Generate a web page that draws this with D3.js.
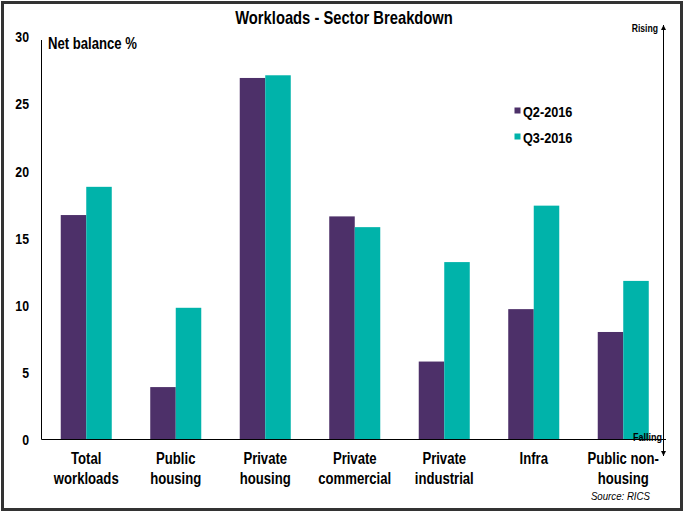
<!DOCTYPE html>
<html>
<head>
<meta charset="utf-8">
<script src="https://cdn.jsdelivr.net/npm/d3@7"></script>
<style>
  html, body { margin: 0; padding: 0; background: #fff; }
  svg { display: block; }
  text { font-family: "Liberation Sans", Arial, sans-serif; font-weight: bold; fill: #000; }
</style>
</head>
<body>
<svg id="chart" width="685" height="513"></svg>
<script>
const categories = [
  ["Total", "workloads"],
  ["Public", "housing"],
  ["Private", "housing"],
  ["Private", "commercial"],
  ["Private", "industrial"],
  ["Infra"],
  ["Public non-", "housing"]
];
const seriesNames = ["Q2-2016", "Q3-2016"];
const q2_2016 = [16.7, 3.9, 26.9, 16.6, 5.8, 9.7, 8.0];
const q3_2016 = [18.8, 9.8, 27.1, 15.8, 13.2, 17.4, 11.8];
const yTicks = [0, 5, 10, 15, 20, 25, 30];
const colors = ["#4d3069", "#00b3aa"];

const NARROW = 0.82;
const svg = d3.select("#chart");

function ntext(parent, x, y, str, size, anchor) {
  return parent.append("text")
    .attr("transform", `translate(${x},${y}) scale(${NARROW},1)`)
    .attr("text-anchor", anchor || "start")
    .attr("font-size", size)
    .text(str);
}

// frame
svg.append("rect").attr("x", 2.5).attr("y", 2.5).attr("width", 679).attr("height", 507)
  .attr("fill", "none").attr("stroke", "#333").attr("stroke-width", 3);

const left = 41.5, right = 668, y0px = 439.5, y30px = 36.3;
const catKeys = categories.map(c => c.join(" "));
const x = d3.scaleBand().domain(catKeys).range([left, right]).paddingInner(0.43).paddingOuter(0.215);
const xs = d3.scaleBand().domain(seriesNames).range([0, x.bandwidth()]);
const y = d3.scaleLinear().domain([0, 30]).range([y0px, y30px]);

// title
ntext(svg, 344, 24, "Workloads - Sector Breakdown", 18, "middle");

// bars
const data = catKeys.map((k, i) => ({ k, vals: [q2_2016[i], q3_2016[i]] }));
const g = svg.append("g");
data.forEach(d => {
  d.vals.forEach((v, j) => {
    g.append("rect")
      .attr("x", x(d.k) + xs(seriesNames[j]))
      .attr("y", y(v))
      .attr("width", xs.bandwidth())
      .attr("height", y(0) - y(v))
      .attr("fill", colors[j]);
  });
});

// y axis line
svg.append("line").attr("x1", 41.5).attr("x2", 41.5).attr("y1", 40).attr("y2", y(0))
  .attr("stroke", "#000").attr("stroke-width", 1);
// zero line
svg.append("line").attr("x1", 41.5).attr("x2", 666).attr("y1", y(0)).attr("y2", y(0))
  .attr("stroke", "#000").attr("stroke-width", 1);

// y tick labels
const yAxis = d3.axisLeft(y).tickValues(yTicks).tickSize(0).tickPadding(0);
const ya = svg.append("g").attr("transform", "translate(29,0)").call(yAxis);
ya.select(".domain").remove();
ya.selectAll("text")
  .attr("font-size", 15).attr("fill", "#000").attr("dy", "0.36em")
  .attr("transform", `scale(${NARROW},1)`)
  .style("font-family", "'Liberation Sans', Arial, sans-serif").style("font-weight", "bold");

// y label
ntext(svg, 48, 49, "Net balance %", 16);

// category labels
categories.forEach((lines, i) => {
  const cx = x(catKeys[i]) + x.bandwidth() / 2;
  lines.forEach((ln, li) => {
    ntext(svg, cx, 464 + li * 20, ln, 16, "middle");
  });
});

// legend
seriesNames.forEach((s, i) => {
  const ly = 111 + i * 26;
  svg.append("rect").attr("x", 514.5).attr("y", ly - 3.5).attr("width", 6).attr("height", 6).attr("fill", colors[i]);
  ntext(svg, 523, ly + 5.5, s, 15.5);
});

// rising / falling arrow
const defs = svg.append("defs");
defs.append("marker").attr("id", "ah").attr("viewBox", "0 0 10 10").attr("refX", 10).attr("refY", 5)
  .attr("markerWidth", 5).attr("markerHeight", 5).attr("orient", "auto-start-reverse")
  .append("path").attr("d", "M0,0 L10,5 L0,10 z").attr("fill", "#000");
svg.append("line").attr("x1", 663.5).attr("x2", 663.5).attr("y1", 25).attr("y2", 456)
  .attr("stroke", "#000").attr("stroke-width", 1)
  .attr("marker-start", "url(#ah)").attr("marker-end", "url(#ah)");
ntext(svg, 658, 32, "Rising", 10.5, "end");
ntext(svg, 633, 441, "Falling", 11);

// source
ntext(svg, 650, 500, "Source: RICS", 11.8, "end")
  .attr("font-style", "italic").style("font-weight", "normal");
</script>
</body>
</html>
